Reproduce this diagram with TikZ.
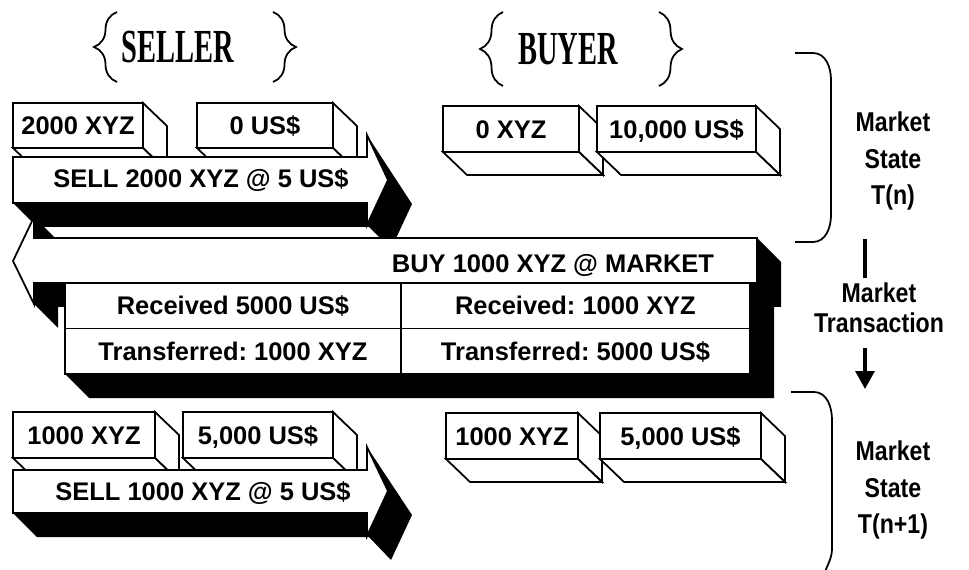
\documentclass[tikz,border=0pt]{standalone}
\usepackage{fontspec}
\setmainfont{Liberation Sans}
\newfontfamily\titlefont[FakeStretch=0.6]{Liberation Serif}
\newfontfamily\narrowfont[FakeStretch=0.85]{Liberation Sans}
\usetikzlibrary{arrows.meta, decorations.pathreplacing}
\frenchspacing

% the two visible sides of a box node
\newcommand{\boxsides}[1]{%
  \draw[face] (#1.north east) -- ([shift={(24,23)}]#1.north east) -- ([shift={(24,23)}]#1.south east) -- (#1.south east) -- cycle;
  \draw[face] (#1.south west) -- (#1.south east) -- ([shift={(24,23)}]#1.south east) -- ([shift={(24,23)}]#1.south west) -- cycle;}

\begin{document}
\begin{tikzpicture}[x=0.02cm, y=-0.02cm, line width=1pt,
    sans/.style = {font=\bfseries\fontsize{14.5}{17}\selectfont, text height=10.4pt, text depth=0pt},
    cube/.style = {sans, draw, fill=white, anchor=north west, inner sep=0pt, outer sep=0pt, minimum height=0.92cm},
    cell/.style = {cube, minimum height=0.91cm},
    face/.style = {draw, fill=white},
    front/.style = {draw, fill=white},
    blackside/.style = {fill=black},
    party/.style = {font=\titlefont\bfseries\fontsize{27}{30}\selectfont},
    mstate/.style = {font=\narrowfont\bfseries\fontsize{15.5}{21}\selectfont, align=center},
    curly/.style = {decorate, decoration={brace, amplitude=0.46cm}}]
    \useasboundingbox (0,0) rectangle (969,570);

    % headers
    \node[party] at (178,47) (Seller) {SELLER};
    \node[party] at (568,49) (Buyer) {BUYER};
    \draw[curly] (117,82) -- (117,12);
    \draw[curly] (273,12) -- (273,82);
    \draw[curly] (503,86) -- (503,12);
    \draw[curly] (659,12) -- (659,86);

    % state T(n)
    \node[cube, minimum width=2.6cm, minimum height=0.9cm] at (13,103) (S1) {2000 XYZ};
    \boxsides{S1}
    \node[cube, minimum width=2.72cm, minimum height=0.9cm] at (197,103) (S2) {0 US\$};
    \boxsides{S2}
    \node[cube, minimum width=2.72cm] at (443,106) (B1) {0 XYZ};
    \boxsides{B1}
    \node[cube, minimum width=3.18cm] at (597,106) (B2) {10,000 US\$};
    \boxsides{B2}

    \fill[blackside] (13,203) -- (367,203) -- (367,135) -- (412,204) -- (391,249) -- (369,227) -- (37,227) -- cycle;
    \draw[front] (13,157) -- (367,157) -- (367,135) -- (388,180) -- (367,225) -- (367,203) -- (13,203) -- cycle;
    \node[sans] at (201,178) (SellA) {SELL 2000 XYZ @ 5 US\$};

    % transaction
    \fill[blackside] (34,217) -- (58,241) -- (58,262) -- (34,238) -- cycle;
    \fill[blackside] (34,283) -- (34,304) -- (58,328) -- (58,307) -- (781,307) -- (781,262) -- (757,238) -- (757,283) -- cycle;
    \draw[front] (757,238) -- (34,238) -- (34,217) -- (13,261) -- (34,304) -- (34,283) -- (757,283) -- cycle;
    \node[sans] at (553,263) (Buy) {BUY 1000 XYZ @ MARKET};

    \fill[blackside] (65,374) -- (750,374) -- (750,283) -- (774,307) -- (774,398) -- (89,398) -- cycle;
    \node[cell, minimum width=6.72cm] at (65,283) (R1) {Received 5000 US\$};
    \node[cell, minimum width=6.98cm] at (401,283) (R2) {Received: 1000 XYZ};
    \node[cell, minimum width=6.72cm] at (65,328.5) (T1) {Transferred: 1000 XYZ};
    \node[cell, minimum width=6.98cm] at (401,328.5) (T2) {Transferred: 5000 US\$};

    % state T(n+1)
    \node[cube, minimum width=2.84cm] at (13,412) (S3) {1000 XYZ};
    \boxsides{S3}
    \node[cube, minimum width=3cm] at (183,412) (S4) {5,000 US\$};
    \boxsides{S4}
    \node[cube, minimum width=2.64cm] at (446,413) (B3) {1000 XYZ};
    \boxsides{B3}
    \node[cube, minimum width=3.22cm] at (600,413) (B4) {5,000 US\$};
    \boxsides{B4}

    \fill[blackside] (13,513) -- (367,513) -- (367,447) -- (412,515) -- (391,560) -- (369,537) -- (37,537) -- cycle;
    \draw[front] (13,470) -- (367,470) -- (367,447) -- (388,491) -- (367,536) -- (367,513) -- (13,513) -- cycle;
    \node[sans] at (203,491) (SellB) {SELL 1000 XYZ @ 5 US\$};

    % right hand side
    \draw (795,53) -- (813,53) to[out=0, in=90] (831,80) -- (831,215) to[out=-90, in=0] (813,242) -- (795,242);
    \draw (791,392) -- (814,392) to[out=0, in=90] (832,420) -- (832,548) to[out=-90, in=70] (825,572);
    \node[mstate] at (893,161) (StateA) {Market\\State\\T(n)};
    \node[mstate] at (893,490) (StateB) {Market\\State\\T(n+1)};
    \node[mstate, font=\narrowfont\bfseries\fontsize{15.5}{17}\selectfont] at (879,308) (Trans) {Market\\Transaction};

    \coordinate (Ta) at (865,239);
    \coordinate (Tb) at (865,278);
    \coordinate (Tc) at (865,348);
    \coordinate (Td) at (865,389);
    \draw[line width=1.8pt] (Ta) -- (Tb);
    \draw[line width=1.8pt, -{Triangle[width=0.38cm, length=0.36cm]}] (Tc) -- (Td);
\end{tikzpicture}
\end{document}
